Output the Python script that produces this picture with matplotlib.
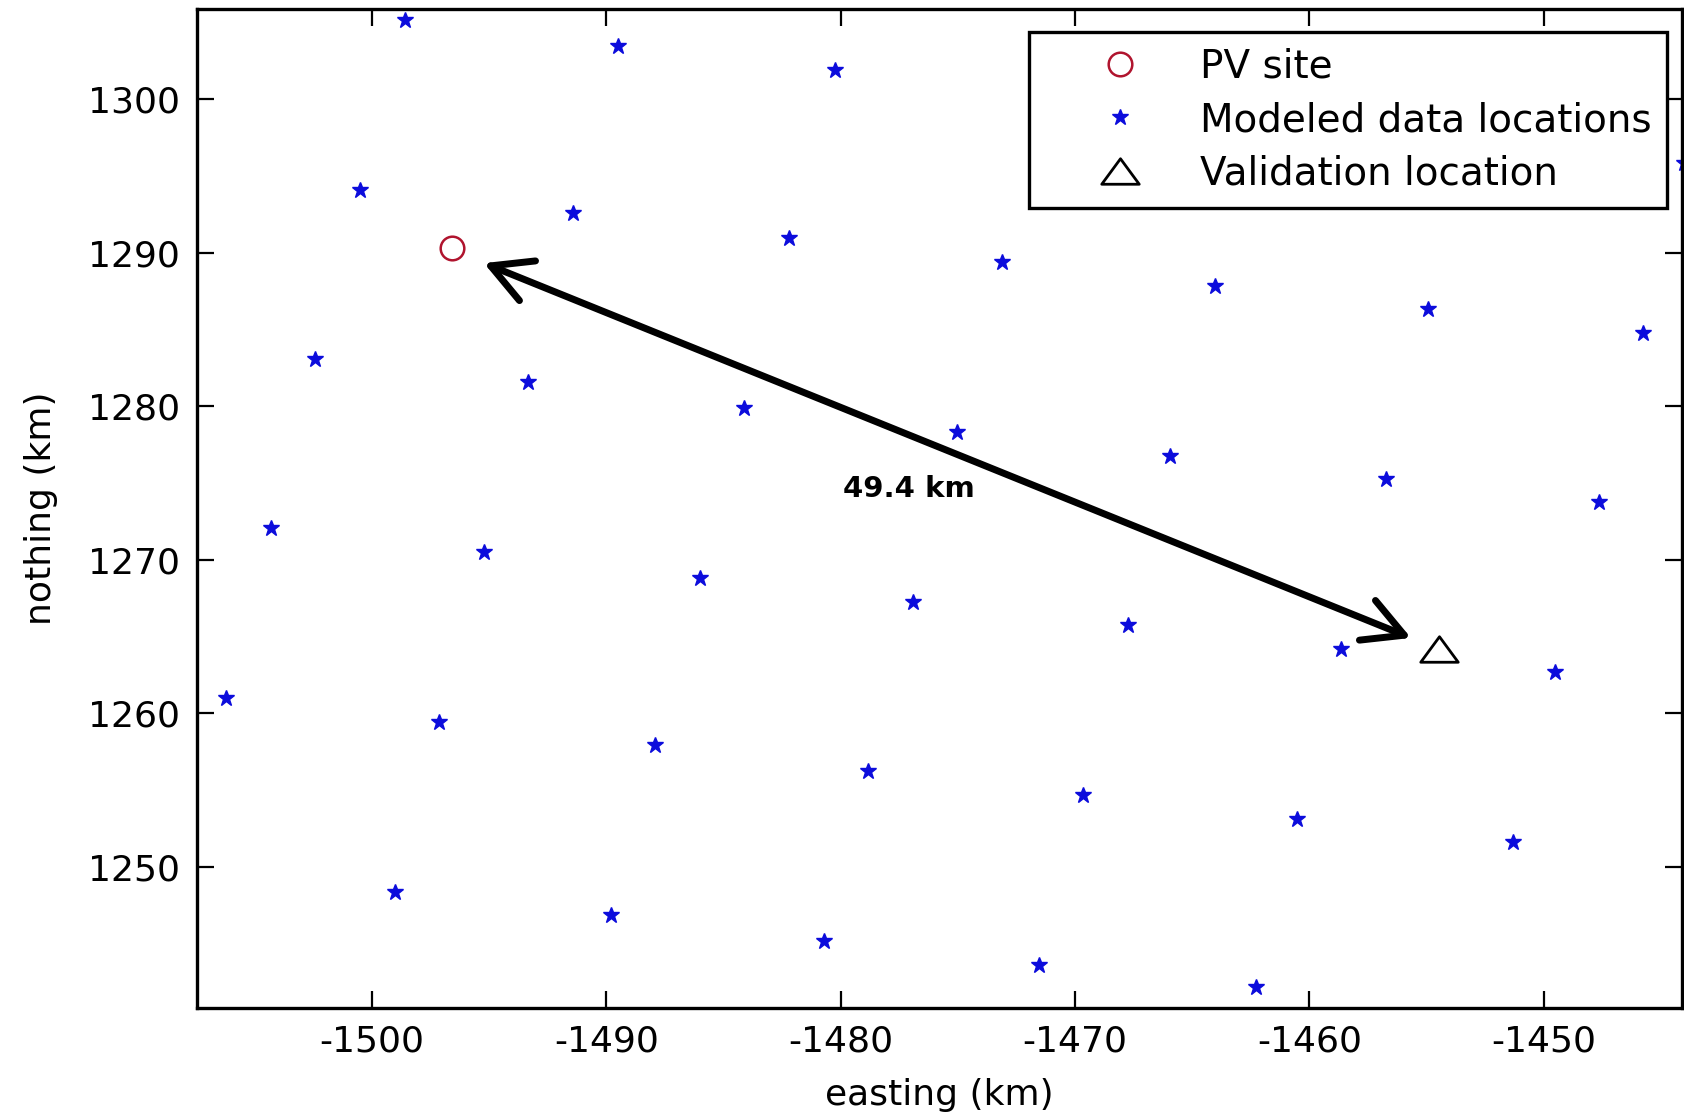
import matplotlib
matplotlib.use('Agg')
import matplotlib.pyplot as plt
from matplotlib.path import Path

plt.rcParams.update({'font.family': 'DejaVu Sans', 'font.size': 26,
                     'axes.unicode_minus': False})

# modeled data grid points (easting, northing) in km
model_e = [-1498.57, -1489.49, -1480.26, -1500.50, -1491.41, -1482.19, -1473.10,
           -1464.01, -1454.93, -1445.75, -1444.0, -1502.43, -1493.34, -1484.12,
           -1475.03, -1465.94, -1456.71, -1447.63, -1504.31, -1495.22, -1486.00,
           -1476.91, -1467.73, -1458.64, -1449.51, -1506.24, -1497.15, -1487.92,
           -1478.84, -1469.66, -1460.53, -1451.30, -1499.03, -1489.81, -1480.72,
           -1471.54, -1462.27]
model_n = [1305.12, 1303.44, 1301.90, 1294.07, 1292.60, 1290.92, 1289.38,
           1287.84, 1286.30, 1284.76, 1295.82, 1283.08, 1281.54, 1279.86,
           1278.33, 1276.78, 1275.24, 1273.78, 1272.03, 1270.49, 1268.81,
           1267.27, 1265.73, 1264.19, 1262.65, 1260.97, 1259.43, 1257.90,
           1256.22, 1254.68, 1253.13, 1251.59, 1248.38, 1246.84, 1245.16,
           1243.62, 1242.15]

pv_site = (-1496.56, 1290.29)
validation = (-1454.47, 1264.19)
arrow_from = (-1495.22, 1289.31)
arrow_to = (-1455.66, 1264.90)
dist_label = '49.4 km'
dist_pos = (-1477.09, 1274.61)

xticks = [-1500, -1490, -1480, -1470, -1460, -1450]
yticks = [1250, 1260, 1270, 1280, 1290, 1300]

# wide, flat triangle like the matlab one
tri = Path([(0, 0.68), (-1, -0.68), (1, -0.68), (0, 0.68)],
           [Path.MOVETO, Path.LINETO, Path.LINETO, Path.CLOSEPOLY])

fig = plt.figure(figsize=(16.84, 11.15), dpi=100)
ax = fig.add_axes([197/1684, 1-1008/1115, 1485/1684, 999/1115])

ax.plot(*pv_site, 'o', ms=17, mfc='none', mec='#b0142e', mew=1.8, label='PV site', ls='none')
ax.plot(model_e, model_n, '*', ms=12, color='#0c0cdc', ls='none', label='Modeled data locations')
ax.plot(*validation, marker=tri, ms=27, mfc='none', mec='black', mew=2, ls='none',
        label='Validation location')

ax.annotate('', xy=arrow_to, xytext=arrow_from,
            arrowprops=dict(arrowstyle='<->,head_length=1.3,head_width=0.7',
                            lw=5, color='black', mutation_scale=22,
                            shrinkA=0, shrinkB=0))
ax.text(*dist_pos, dist_label, fontsize=21, fontweight='bold', ha='center', va='center')

ax.set_xlim(-1507.46, -1444.1)
ax.set_ylim(1240.8, 1305.86)
ax.set_xticks(xticks)
ax.set_yticks(yticks)
ax.tick_params(direction='in', length=12, width=1.6, top=True, right=True,
               labelsize=26, pad=12)
for s in ax.spines.values():
    s.set_linewidth(2.4)

ax.set_xlabel('easting (km)', fontsize=26, labelpad=14)
ax.set_ylabel('nothing (km)', fontsize=26, labelpad=22)

leg = ax.legend(loc='upper right', bbox_to_anchor=(0.990, 0.977), borderaxespad=0,
                fontsize=28, fancybox=False, edgecolor='black', framealpha=1,
                handletextpad=0.1, borderpad=0.4, labelspacing=0.4, handlelength=3.9)
leg.get_frame().set_linewidth(2.4)

fig.savefig('out.png', dpi=100)
